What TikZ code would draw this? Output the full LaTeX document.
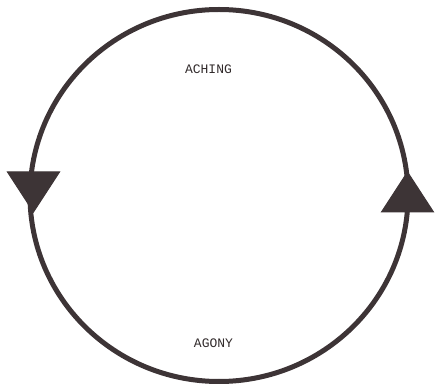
\documentclass[tikz,border=0pt]{standalone}
\usepackage{fontspec}
\setmonofont{Liberation Mono}
\usepackage{xcolor}
\definecolor{ink}{HTML}{3D3436}

\begin{document}
\begin{tikzpicture}[
  x=1pt,y=1pt,
  word/.style={font=\ttfamily\fontsize{13}{15}\selectfont,text=ink!80!black,inner sep=1pt},
  ring/.style={draw=ink,line width=5pt},
  head/.style={fill=ink,draw=ink,line width=1pt,line join=miter}
]
\useasboundingbox (0,0) rectangle (437,-387);
\coordinate (top) at (219,-9.5);
\coordinate (bot) at (219,-381.5);
\coordinate (tipl) at (33.5,-212);
\coordinate (tipr) at (407.5,-172);
\node[word] (aching) at (208.5,-69) {ACHING};
\node[word] (agony) at (213.5,-343) {AGONY};
% the cycle, down on the left and up on the right
\draw[ring] (top) arc[start angle=90,end angle=270,x radius=189,y radius=186];
\draw[ring] (bot) arc[start angle=270,end angle=450,x radius=189,y radius=186];
\draw[head] (tipl) -- ++(-26,40) -- ++(52,0) -- cycle;
\draw[head] (tipr) -- ++(-26,-40) -- ++(52,0) -- cycle;
\end{tikzpicture}
\end{document}
